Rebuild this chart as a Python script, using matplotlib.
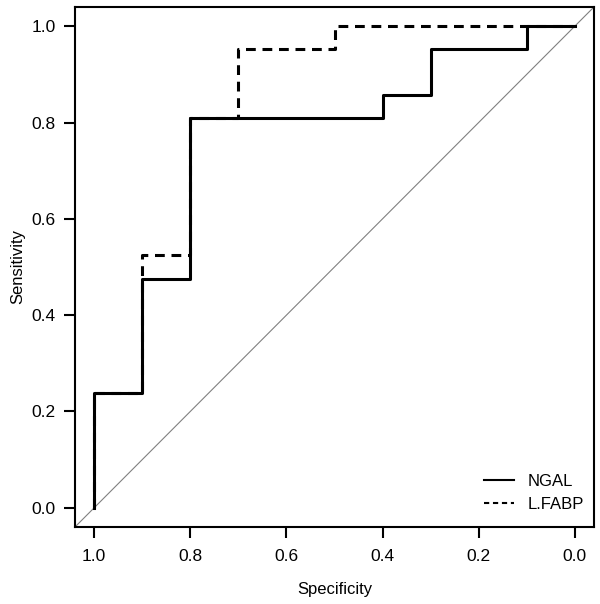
import matplotlib
matplotlib.use("Agg")
import matplotlib.pyplot as plt
from matplotlib.lines import Line2D

plt.rcParams['font.family'] = ['Liberation Sans', 'DejaVu Sans']

# NGAL ROC curve (specificity, sensitivity) step vertices
ngal_spec = [1.0, 1.0, 0.9, 0.9, 0.8, 0.8, 0.4, 0.4, 0.3, 0.3, 0.1, 0.1, 0.0]
ngal_sens = [0.0, 0.238, 0.238, 0.476, 0.476, 0.810, 0.810, 0.857, 0.857, 0.952, 0.952, 1.0, 1.0]

# L.FABP ROC curve
lfabp_spec = [1.0, 1.0, 0.9, 0.9, 0.8, 0.8, 0.7, 0.7, 0.5, 0.5, 0.0]
lfabp_sens = [0.0, 0.238, 0.238, 0.524, 0.524, 0.810, 0.810, 0.952, 0.952, 1.0, 1.0]

ticks = [1.0, 0.8, 0.6, 0.4, 0.2, 0.0]
tick_labels = ["1.0", "0.8", "0.6", "0.4", "0.2", "0.0"]
series_names = ["NGAL", "L.FABP"]

fig = plt.figure(figsize=(6.0, 6.04), dpi=100)
ax = fig.add_axes([0.125, 0.1275, 0.865, 0.861])

ax.plot([1.04, -0.04], [-0.04, 1.04], color="#808080", lw=0.8, zorder=1)
ax.plot(lfabp_spec, lfabp_sens, color="black", lw=2.2, linestyle=(0, (3.2, 2.2)), zorder=2)
ax.plot(ngal_spec, ngal_sens, color="black", lw=2.2, linestyle="-", zorder=3)

ax.set_xlim(1.04, -0.04)
ax.set_ylim(-0.04, 1.04)
ax.set_xticks(ticks)
ax.set_xticklabels(tick_labels)
ax.set_yticks(ticks)
ax.set_yticklabels(tick_labels)
ax.tick_params(axis="both", direction="out", length=8, width=1.5, labelsize=12.5, pad=6)
ax.tick_params(axis="x", pad=8)
for s in ax.spines.values():
    s.set_linewidth(1.5)

ax.set_xlabel("Specificity", fontsize=12, labelpad=13)
ax.set_ylabel("Sensitivity", fontsize=12, labelpad=4)

handles = [Line2D([], [], color="black", lw=1.5, linestyle="-"),
           Line2D([], [], color="black", lw=1.5, linestyle=(0, (2.5, 1.8)))]
ax.legend(handles, series_names, loc="lower right", frameon=False, fontsize=12,
          handlelength=1.8, handletextpad=0.8, labelspacing=0.45,
          bbox_to_anchor=(1.0, 0.01), borderaxespad=0.2)

fig.savefig("out.png", dpi=100)
